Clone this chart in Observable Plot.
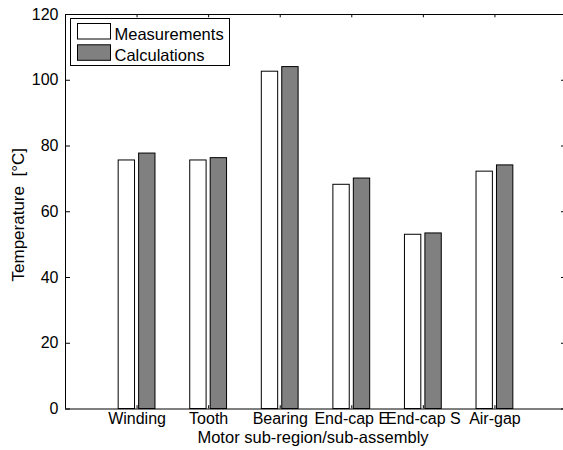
<!DOCTYPE html>
<html>
<head>
<meta charset="utf-8">
<script src="https://cdn.jsdelivr.net/npm/d3@7"></script>
<script src="https://cdn.jsdelivr.net/npm/@observablehq/plot@0.6"></script>
<style>
  body { margin: 0; background: white; }
  #wrap { position: relative; width: 563px; height: 450px; overflow: hidden; }
  #legend { position: absolute; left: 0; top: 0; }
</style>
</head>
<body>
<div id="wrap"></div>
<script>
const categories = ["Winding", "Tooth", "Bearing", "End-cap E", "End-cap S", "Air-gap"];
const series = ["Measurements", "Calculations"];
const measurements = [75.6, 75.6, 102.6, 68.2, 53.0, 72.2];
const calculations = [77.7, 76.3, 104.0, 70.1, 53.4, 74.1];
const yTicks = [0, 20, 40, 60, 80, 100, 120];
const xTicks = [1, 2, 3, 4, 5, 6];
const xLabel = "Motor sub-region/sub-assembly";
const yLabel = "Temperature\u00a0 [°C]";
const colors = ["#ffffff", "#808080"];

// MATLAB-style grouped bar layout
const groupWidth = Math.min(0.8, series.length / (series.length + 1.5));
const barW = groupWidth / series.length * 0.8;
const rows = [];
[measurements, calculations].forEach((vals, s) => {
  vals.forEach((v, i) => {
    const center = (i + 1) - groupWidth / 2 + (s + 0.5) * groupWidth / series.length;
    rows.push({category: categories[i], series: series[s], s, value: v, x1: center - barW / 2, x2: center + barW / 2});
  });
});

const font = "'Liberation Sans', Arial, Helvetica, sans-serif";

const chart = Plot.plot({
  width: 563,
  height: 450,
  marginLeft: 65,
  marginRight: -3,
  marginTop: 14,
  marginBottom: 41.5,
  style: {fontFamily: font, fontSize: "16px", background: "white", color: "black", overflow: "visible", whiteSpace: "pre"},
  x: {type: "linear", domain: [0, 7]},
  y: {domain: [0, 120]},
  marks: [
    Plot.rect(rows, {x1: "x1", x2: "x2", y1: 0, y2: "value", fill: d => colors[d.s], stroke: "black", strokeWidth: 1}),
    Plot.ruleY([0, 120], {stroke: "black", strokeWidth: 1}),
    Plot.ruleX([0], {y1: 0, y2: 120, stroke: "black", strokeWidth: 1}),
    Plot.ruleY(yTicks, {x1: 0, x2: 0.07, stroke: "black"}),
    Plot.ruleY(yTicks, {x1: 6.93, x2: 7, stroke: "black"}),
    Plot.ruleX(xTicks, {y1: 0, y2: 1, stroke: "black"}),
    Plot.ruleX(xTicks, {y1: 119, y2: 120, stroke: "black"}),
    Plot.axisY({ticks: yTicks, tickSize: 0, tickPadding: 7, label: null, fontSize: 16}),
    Plot.axisX({ticks: xTicks, tickSize: 0, tickPadding: 4, tickFormat: i => categories[i - 1], label: null, fontSize: 16}),
    Plot.text([xLabel], {text: d => d, frameAnchor: "bottom", textAnchor: "middle", lineAnchor: "middle", dy: 28.5, dx: -3, fontSize: 16.5}),
    Plot.text([yLabel], {text: d => d, frameAnchor: "left", textAnchor: "middle", lineAnchor: "middle", rotate: -90, dx: -46.7, dy: 3, fontSize: 17})
  ]
});

const wrap = document.getElementById("wrap");
wrap.appendChild(chart);

// legend (drawn inside the axes, upper left, MATLAB style)
const lg = d3.select(wrap).append("svg").attr("id", "legend")
  .attr("width", 563).attr("height", 450)
  .style("font-family", font).style("font-size", "16.5px");
lg.append("rect").attr("x", 70.5).attr("y", 18.5).attr("width", 159).attr("height", 47)
  .attr("fill", "white").attr("stroke", "black");
series.forEach((name, s) => {
  const y = 23.5 + s * 21.3;
  lg.append("rect").attr("x", 77.5).attr("y", y).attr("width", 33).attr("height", 15.5)
    .attr("fill", colors[s]).attr("stroke", "black");
  lg.append("text").attr("x", 114.5).attr("y", y + 16).text(name);
});
</script>
</body>
</html>
